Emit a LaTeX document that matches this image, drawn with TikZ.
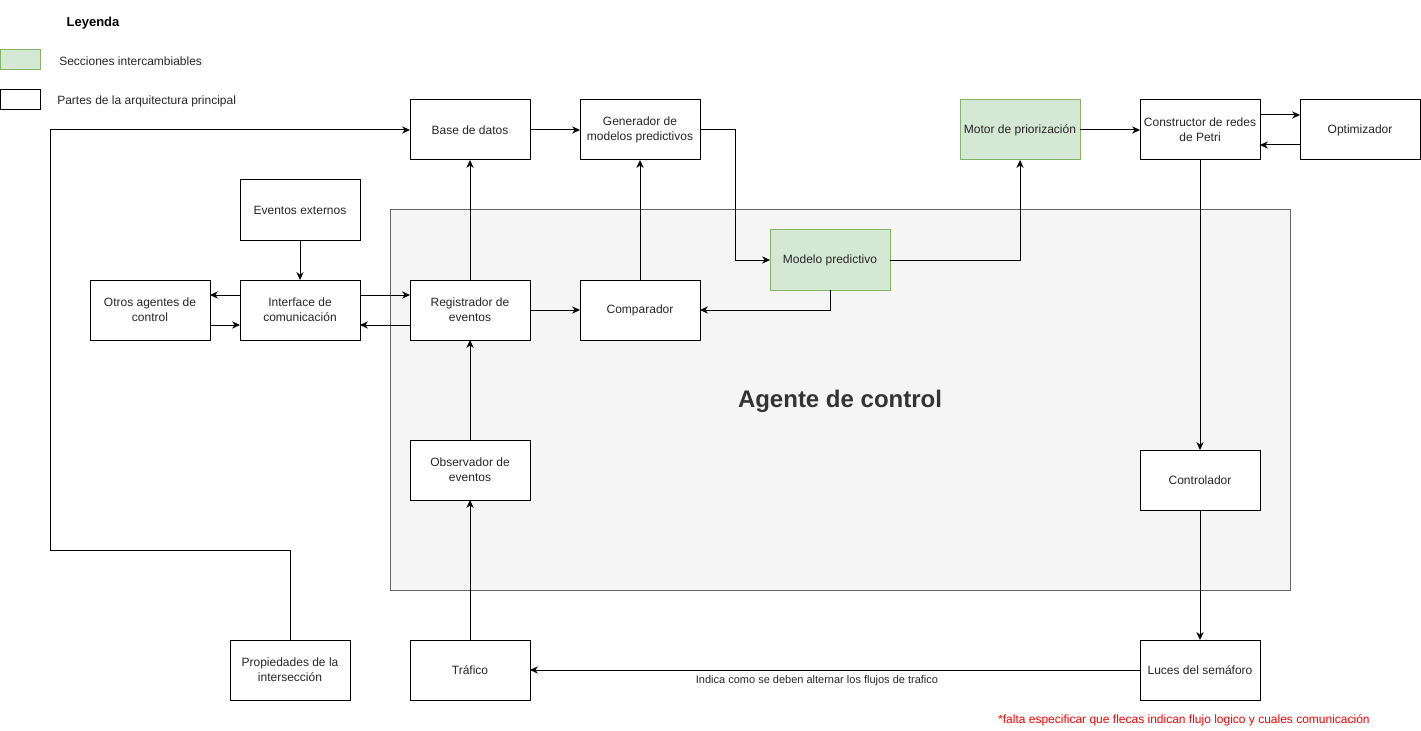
\documentclass[tikz,border=0pt]{standalone}
\usepackage{fontspec}
\setmainfont{Liberation Sans}
\usetikzlibrary{arrows.meta}
\definecolor{greenfill}{HTML}{D5E8D4}
\definecolor{greenline}{HTML}{82B366}
\definecolor{agentfill}{HTML}{F5F5F5}
\definecolor{agentline}{HTML}{666666}
\definecolor{agenttext}{HTML}{333333}
\tikzset{
  box/.style={draw=black, line width=0.75pt, fill=white, minimum width=90pt, minimum height=45pt,
    inner sep=0pt, outer sep=0pt, align=center, font=\fontsize{9pt}{11pt}\selectfont, text=black!85},
  gbox/.style={box, draw=greenline, fill=greenfill},
  arr/.style={draw=black, line width=0.75pt, -{Stealth[length=6pt,width=5.5pt,inset=2pt]}},
  legtext/.style={anchor=west, inner sep=0pt, font=\fontsize{9pt}{11pt}\selectfont, text=black!85},
}
\begin{document}
\begin{tikzpicture}[x=0.75pt,y=-0.75pt]
\useasboundingbox (0,0) rectangle (1421,731);
% legend
\node[anchor=center, inner sep=0pt, font=\fontsize{9.75pt}{11pt}\selectfont\bfseries] (leyenda) at (93,23) {Leyenda};
\node[draw=greenline, fill=greenfill, line width=0.75pt, minimum width=30pt, minimum height=15pt, inner sep=0pt, outer sep=0pt] (leg1) at (20,60) {};
\node[draw=black, fill=white, line width=0.75pt, minimum width=30pt, minimum height=15pt, inner sep=0pt, outer sep=0pt] (leg2) at (20,100) {};
\node[legtext] (leg1t) at (59,61) {Secciones intercambiables};
\node[legtext] (leg2t) at (57,101) {Partes de la arquitectura principal};
% agent background
\node[draw=agentline, fill=agentfill, line width=0.75pt, minimum width=675pt, minimum height=285pt, inner sep=0pt, outer sep=0pt] (agente) at (840,400) {};
\node[font=\fontsize{18pt}{20pt}\selectfont\bfseries, text=agenttext, inner sep=0pt] (agentelbl) at (840,401) {Agente de control};
% nodes
\node[box] (base) at (470,130) {Base de datos};
\node[box] (gen) at (640,130) {Generador de\\modelos predictivos};
\node[gbox] (motor) at (1020,130) {Motor de priorización};
\node[box] (constr) at (1200,130) {Constructor de redes\\de Petri};
\node[box] (opt) at (1360,130) {Optimizador};
\node[box] (evext) at (300,210) {Eventos externos};
\node[gbox] (modelo) at (830,260) {Modelo predictivo};
\node[box] (otros) at (150,310) {Otros agentes de\\control};
\node[box] (iface) at (300,310) {Interface de\\comunicación};
\node[box] (reg) at (470,310) {Registrador de\\eventos};
\node[box] (comp) at (640,310) {Comparador};
\node[box] (obs) at (470,470) {Observador de\\eventos};
\node[box] (ctrl) at (1200,480) {Controlador};
\node[box] (prop) at (290,670) {Propiedades de la\\intersección};
\node[box] (traf) at (470,670) {Tráfico};
\node[box] (luces) at (1200,670) {Luces del semáforo};
% connectors
\draw[arr] (prop.north) -- ++(0,-90) -- ++(-240,0) |- (base.west);
\draw[arr] (base.east) -- (gen.west);
\draw[arr] (gen.east) -- ++(35,0) |- (modelo.west);
\draw[arr] (modelo.east) -| (motor.south);
\draw[arr] (motor.east) -- (constr.west);
\draw[arr] ([yshift=11.25pt]constr.east) -- ([yshift=11.25pt]opt.west);
\draw[arr] ([yshift=-11.25pt]opt.west) -- ([yshift=-11.25pt]constr.east);
\draw[arr] (constr.south) -- (ctrl.north);
\draw[arr] (ctrl.south) -- (luces.north);
\draw[arr] (luces.west) -- (traf.east);
\draw[arr] (traf.north) -- (obs.south);
\draw[arr] (obs.north) -- (reg.south);
\draw[arr] (reg.north) -- (base.south);
\draw[arr] (reg.east) -- (comp.west);
\draw[arr] (comp.north) -- (gen.south);
\draw[arr] (modelo.south) |- (comp.east);
\draw[arr] (evext.south) -- (iface.north);
\draw[arr] ([yshift=11.25pt]iface.west) -- ([yshift=11.25pt]otros.east);
\draw[arr] ([yshift=-11.25pt]otros.east) -- ([yshift=-11.25pt]iface.west);
\draw[arr] ([yshift=11.25pt]iface.east) -- ([yshift=11.25pt]reg.west);
\draw[arr] ([yshift=-11.25pt]reg.west) -- ([yshift=-11.25pt]iface.east);
% labels
\node[inner sep=0pt, font=\fontsize{8.25pt}{10pt}\selectfont, text=black!85] (flujo) at (817,681) {Indica como se deben alternar los flujos de trafico};
\node[anchor=east, inner sep=0pt, font=\fontsize{9pt}{11pt}\selectfont, text=red] (nota) at (1370,720) {*falta especificar que flecas indican flujo logico y cuales comunicación};
\end{tikzpicture}
\end{document}
